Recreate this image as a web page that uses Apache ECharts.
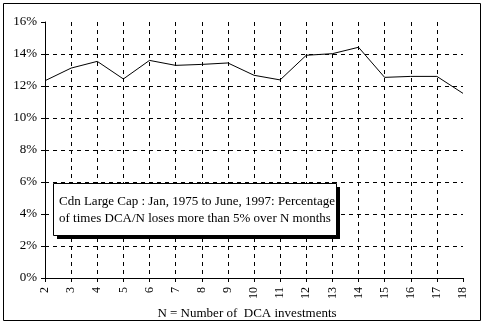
<!DOCTYPE html>
<html>
<head>
<meta charset="utf-8">
<script src="https://cdn.jsdelivr.net/npm/echarts@6/dist/echarts.min.js"></script>
<style>html,body{margin:0;padding:0;background:#fff;}#c{width:485px;height:334px;}</style>
</head>
<body>
<div id="c"></div>
<script>
var categories = ['2','3','4','5','6','7','8','9','10','11','12','13','14','15','16','17','18'];
var values = [12.33, 13.12, 13.54, 12.44, 13.6, 13.29, 13.35, 13.44, 12.67, 12.38, 13.92, 14.02, 14.42, 12.54, 12.6, 12.6, 11.54];
var yTicks = [0, 2, 4, 6, 8, 10, 12, 14, 16];
var xTitle = 'N = Number of  DCA investments';
var boxText = 'Cdn Large Cap : Jan, 1975 to June, 1997: Percentage\nof times DCA/N loses more than 5% over N months';

var font = 'Liberation Serif';
var chart = echarts.init(document.getElementById('c'), null, {renderer: 'canvas'});
var dash = {color: '#000', width: 1, type: [4, 4]};
chart.setOption({
  animation: false,
  backgroundColor: '#fff',
  title: {
    text: boxText,
    left: 54, top: 184, z: 20,
    padding: [9, 4, 8, 5],
    textStyle: {fontFamily: font, fontSize: 13, fontWeight: 'normal', color: '#000', lineHeight: 17}
  },
  grid: {left: 45, right: 22, top: 22, bottom: 56, containLabel: false},
  xAxis: {
    type: 'category', data: categories, boundaryGap: false,
    name: xTitle, nameLocation: 'middle', nameGap: 24,
    nameTextStyle: {fontFamily: font, fontSize: 13, color: '#000', padding: [0, 14, 0, 0]},
    axisLine: {lineStyle: {color: '#000', width: 1}},
    axisTick: {show: true, length: 4, lineStyle: {color: '#000'}},
    axisLabel: {rotate: 90, margin: 9, fontFamily: font, fontSize: 12, color: '#000'},
    splitLine: {show: true, showMinLine: false, showMaxLine: false, lineStyle: dash}
  },
  yAxis: {
    type: 'value', min: yTicks[0], max: yTicks[yTicks.length - 1], interval: 2,
    axisLine: {show: true, lineStyle: {color: '#000', width: 1}},
    axisTick: {show: true, length: 4, lineStyle: {color: '#000'}},
    axisLabel: {formatter: '{value}%', margin: 8, fontFamily: font, fontSize: 13, color: '#000'},
    splitLine: {show: true, showMinLine: false, showMaxLine: false, lineStyle: dash}
  },
  graphic: [{
    type: 'rect', z: 15, silent: true,
    shape: {x: 57, y: 187, width: 283, height: 52},
    style: {fill: '#000'}
  }, {
    type: 'rect', z: 16, silent: true,
    shape: {x: 53.5, y: 183.5, width: 283, height: 52},
    style: {fill: '#fff', stroke: '#000', lineWidth: 1}
  }, {
    type: 'rect', z: 100, silent: true,
    shape: {x: 3.5, y: 3.5, width: 477, height: 317},
    style: {fill: 'none', stroke: '#000', lineWidth: 1}
  }],
  series: [{
    type: 'line', data: values, showSymbol: false, symbol: 'none',
    lineStyle: {color: '#000', width: 1}, z: 3
  }]
});
</script>
</body>
</html>
